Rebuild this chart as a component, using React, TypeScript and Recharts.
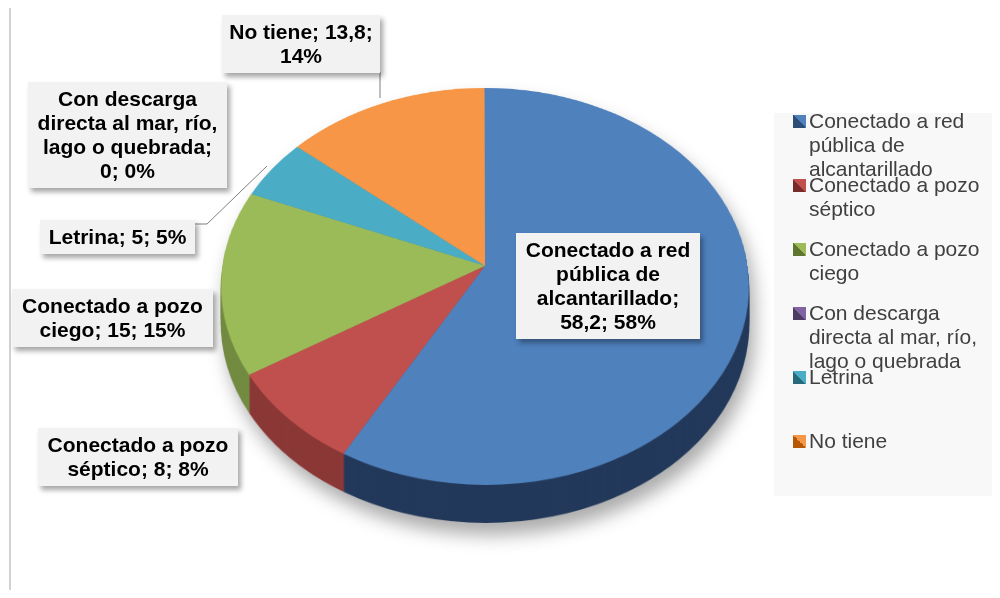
import React from "react"
import { PieChart, Pie, Cell } from "recharts"

// categorías y valores (porcentaje de viviendas)
const categories = [
  "Conectado a red pública de alcantarillado",
  "Conectado a pozo séptico",
  "Conectado a pozo ciego",
  "Con descarga directa al mar, río, lago o quebrada",
  "Letrina",
  "No tiene",
]
const values = [58.2, 8, 15, 0, 5, 13.8]

const faceColors = ["#4F81BD", "#C0504D", "#9BBB59", "#8064A2", "#4BACC6", "#F79646"]
const sideColors = ["#22385A", "#8A3735", "#718A40", "#5D4878", "#347E91", "#B56C2F"]
const markerDark = ["#2C4D75", "#772C2A", "#5F7530", "#4D3B62", "#276A7C", "#B65708"]

const total = values.reduce((a, b) => a + b, 0)
const data = categories.map((name, i) => ({ name, value: values[i] }))

const fmt = (v: number) => String(v).replace(".", ",")
const labelText = (i: number) =>
  `${categories[i]}; ${fmt(values[i])}; ${Math.round((values[i] / total) * 100)}%`

// cajas de etiquetas (posición en la imagen)
const labelBoxes = [
  { left: 516, top: 233, width: 184, pad: 4 },
  { left: 38, top: 428, width: 200, pad: 6 },
  { left: 12, top: 289, width: 201, pad: 6 },
  { left: 28, top: 82, width: 199, pad: 6 },
  { left: 40, top: 220, width: 155, pad: 4 },
  { left: 222, top: 15, width: 158, pad: 4 },
]

// geometría del pastel inclinado
const CX = 480
const CY = 300
const R = 262
const APEX_Y = 262
const TILT = "perspective(1678px) rotateX(41.7deg)"
const DEPTH = 38
const rimOffsets: number[] = []
for (let o = DEPTH; o > 0; o -= 2) rimOffsets.push(o)

const font = "'Liberation Sans', Arial, sans-serif"

const PieLayer = ({ offset, colors }: { offset: number; colors: string[] }) => (
  <div
    style={{
      position: "absolute",
      left: 0,
      top: APEX_Y - CY,
      width: 1000,
      height: 600,
      transformOrigin: `${CX}px ${CY}px`,
      transform: `translateY(${offset}px) ${TILT}`,
    }}
  >
    <PieChart width={1000} height={600}>
      <Pie
        data={data}
        dataKey="value"
        nameKey="name"
        cx={CX}
        cy={CY}
        outerRadius={R}
        startAngle={90}
        endAngle={-270}
        stroke="none"
        isAnimationActive={false}
      >
        {data.map((d, i) => (
          <Cell key={d.name} fill={colors[i]} />
        ))}
      </Pie>
    </PieChart>
  </div>
)

export default function App() {
  return (
    <div style={{ position: "relative", width: 1000, height: 598, margin: -8, overflow: "hidden", background: "#fff", fontFamily: font }}>
      <div style={{ position: "absolute", left: 9, top: 5, width: 1100, height: 700, border: "2px solid #D2D2D2" }} />

      <div
        style={{
          position: "absolute",
          left: 0,
          top: 0,
          width: 1000,
          height: 598,
          filter: "drop-shadow(5px 12px 9px rgba(0,0,0,0.33))",
        }}
      >
        {rimOffsets.map((o) => (
          <PieLayer key={o} offset={o} colors={sideColors} />
        ))}
        <PieLayer offset={0} colors={faceColors} />
      </div>

      <svg width={1000} height={598} style={{ position: "absolute", left: 0, top: 0 }}>
        <polyline points="380,72 380,98" fill="none" stroke="#7F7F7F" strokeWidth={1} />
        <polyline points="195,224 207,224 267,166" fill="none" stroke="#7F7F7F" strokeWidth={1} />
      </svg>

      {labelBoxes.map((b, i) => (
        <div
          key={i}
          style={{
            position: "absolute",
            left: b.left,
            top: b.top,
            width: b.width,
            boxSizing: "border-box",
            padding: `5px ${b.pad}px`,
            background: "#F2F2F2",
            boxShadow: "3px 4px 5px rgba(0,0,0,0.35)",
            fontWeight: "bold",
            fontSize: 21,
            lineHeight: "24px",
            textAlign: "center",
            color: "#000",
          }}
        >
          {labelText(i)}
        </div>
      ))}

      <div style={{ position: "absolute", left: 774, top: 113, width: 240, height: 383, background: "#F8F8F8" }}>
        {categories.map((c, i) => (
          <div key={c} style={{ position: "absolute", left: 0, top: -4 + 64 * i, width: 240 }}>
            <div
              style={{
                position: "absolute",
                left: 19,
                top: 6,
                width: 13,
                height: 13,
                background: `linear-gradient(to bottom left, ${faceColors[i]} 50%, ${markerDark[i]} 50%)`,
              }}
            />
            <div style={{ position: "absolute", left: 35, top: 0, width: 185, fontSize: 21, lineHeight: "24px", color: "#404040" }}>
              {c}
            </div>
          </div>
        ))}
      </div>
    </div>
  )
}
